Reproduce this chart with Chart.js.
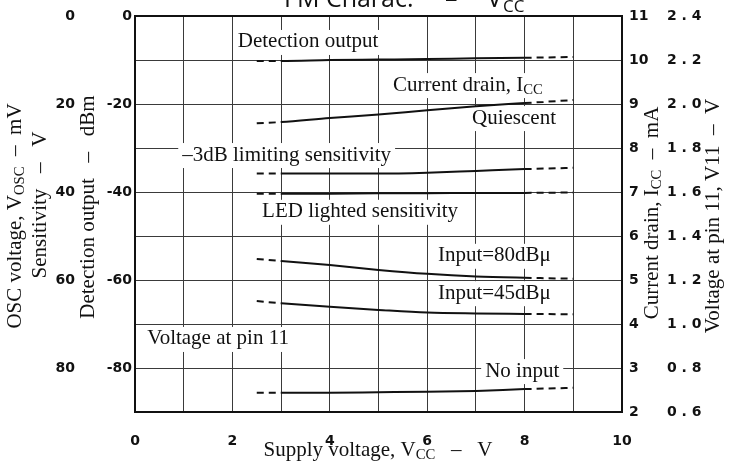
<!DOCTYPE html>
<html lang="en">
<head>
  <meta charset="UTF-8">
  <title>FM Charac. – VCC</title>
  <script src="https://cdn.jsdelivr.net/npm/chart.js"></script>
  <style>
    body { margin: 0; background: #fff; }
  </style>
</head>
<body>

  <canvas id="fmChart" width="739" height="461"></canvas>

  <script>
    // supply voltage (V) and the curves, read in dBm on the inner left scale
    const supplyVoltage     = [2.5, 3, 4, 5, 6, 7, 8, 9];
    const detectionOutput   = [-10.2, -10.2, -10.0, -9.9, -9.8, -9.6, -9.5, -9.3];
    const currentQuiescent  = [-24.4, -24.1, -23.2, -22.4, -21.4, -20.5, -19.8, -19.1];
    const limitingSens3dB   = [-35.8, -35.8, -35.8, -35.8, -35.6, -35.2, -34.8, -34.5];
    const ledSensitivity    = [-40.4, -40.4, -40.4, -40.3, -40.3, -40.2, -40.2, -40.1];
    const pin11Input80      = [-55.2, -55.7, -56.6, -57.7, -58.6, -59.2, -59.5, -59.7];
    const pin11Input45      = [-64.8, -65.3, -66.1, -66.8, -67.4, -67.6, -67.7, -67.8];
    const pin11NoInput      = [-85.6, -85.6, -85.6, -85.5, -85.4, -85.2, -84.8, -84.5];

    // solid between these supply voltages, dashed outside
    const solidFrom = 3, solidTo = 8;

    const serif = '"Liberation Serif", "Times New Roman", serif';
    const tickFont = { family: 'DejaVu Sans', size: 14, weight: 'bold' };
    const labelSize = 21;

    // curve labels, placed in chart units (V, dBm)
    const notes = [
      { parts: [['Detection output']], x: 2.11, y: -5.9 },
      { parts: [['Current drain, I'], ['CC', true]], x: 5.30, y: -15.7 },
      { parts: [['Quiescent']], x: 6.92, y: -23.2 },
      { parts: [['\u20133dB limiting sensitivity']], x: 0.97, y: -31.6 },
      { parts: [['LED lighted sensitivity']], x: 2.61, y: -44.5 },
      { parts: [['Input=80dB\u03bc']], x: 6.22, y: -54.5 },
      { parts: [['Input=45dB\u03bc']], x: 6.22, y: -63.0 },
      { parts: [['Voltage at pin 11']], x: 0.25, y: -73.4 },
      { parts: [['No input']], x: 7.19, y: -80.7 }
    ];

    function richWidth(ctx, parts, size, family) {
      let w = 0;
      parts.forEach(([t, sub]) => {
        ctx.font = (sub ? size * 0.7 : size) + 'px ' + family;
        w += ctx.measureText(t).width;
      });
      return w;
    }

    // left aligned, vertically centred on y
    function drawRich(ctx, parts, x, y, size, family) {
      ctx.textAlign = 'left';
      ctx.textBaseline = 'middle';
      let cx = x;
      parts.forEach(([t, sub]) => {
        ctx.font = (sub ? size * 0.7 : size) + 'px ' + family;
        ctx.fillText(t, cx, sub ? y + size * 0.24 : y);
        cx += ctx.measureText(t).width;
      });
    }

    function drawRotated(ctx, parts, cx, cy, size) {
      ctx.save();
      ctx.translate(cx, cy);
      ctx.rotate(-Math.PI / 2);
      const w = richWidth(ctx, parts, size, serif);
      drawRich(ctx, parts, -w / 2, 0, size, serif);
      ctx.restore();
    }

    const textPlugin = {
      id: 'textPlugin',
      beforeDatasetsDraw(chart) {
        const ctx = chart.ctx, sx = chart.scales.x, sy = chart.scales.y;
        ctx.save();
        notes.forEach(n => {
          const px = sx.getPixelForValue(n.x), py = sy.getPixelForValue(n.y);
          const w = richWidth(ctx, n.parts, labelSize, serif);
          ctx.fillStyle = '#fff';
          ctx.fillRect(px - 4, py - 12, w + 8, 25);
          ctx.fillStyle = '#111';
          drawRich(ctx, n.parts, px, py, labelSize, serif);
        });
        ctx.restore();
      },
      afterDraw(chart) {
        const ctx = chart.ctx, a = chart.chartArea;
        const midY = (a.top + a.bottom) / 2;
        ctx.save();
        ctx.fillStyle = '#111';

        // title, cut by the top edge as in the scan
        ctx.textAlign = 'left';
        ctx.textBaseline = 'alphabetic';
        ctx.font = '25px "Open Sans"';
        ctx.fillText('FM Charac.', 284, 7);
        ctx.fillText('\u2013', 445, 7);
        ctx.fillText('V', 487, 7);
        ctx.font = '17px "Open Sans"';
        ctx.fillText('CC', 503, 12);

        drawRotated(ctx, [['OSC voltage, V'], ['OSC', true], ['  \u2013  mV']], 15, midY + 2, 21);
        drawRotated(ctx, [['Sensitivity   \u2013   V']], 40, midY - 9, 21);
        drawRotated(ctx, [['Detection output   \u2013   dBm']], 88, midY - 7, 21);
        drawRotated(ctx, [['Current drain, I'], ['CC', true], ['  \u2013  mA']], 652, midY - 1, 21);
        drawRotated(ctx, [['Voltage at pin 11, V11  \u2013  V']], 713, midY + 2, 21);

        const xt = [['Supply voltage, V'], ['CC', true], ['   \u2013   V']];
        const xw = richWidth(ctx, xt, 21, serif);
        drawRich(ctx, xt, 378 - xw / 2, 450, 21, serif);
        ctx.restore();
      }
    };

    function curve(values) {
      return {
        data: supplyVoltage.map((v, i) => ({ x: v, y: values[i] })),
        borderColor: '#111',
        borderWidth: 2,
        pointRadius: 0,
        cubicInterpolationMode: 'monotone',
        segment: {
          borderDash: c => (c.p0.parsed.x < solidFrom || c.p0.parsed.x >= solidTo) ? [7, 5] : undefined
        }
      };
    }

    const ctx = document.getElementById('fmChart').getContext('2d');
    new Chart(ctx, {
      type: 'line',
      data: {
        datasets: [
          curve(detectionOutput),
          curve(currentQuiescent),
          curve(limitingSens3dB),
          curve(ledSensitivity),
          curve(pin11Input80),
          curve(pin11Input45),
          curve(pin11NoInput)
        ]
      },
      options: {
        responsive: false,
        animation: false,
        layout: { padding: { top: 16 } },
        plugins: { legend: { display: false }, tooltip: { enabled: false } },
        scales: {
          x: {
            type: 'linear', min: 0, max: 10,
            ticks: { stepSize: 1, padding: 21, color: '#111', font: tickFont,
                     callback: v => v % 2 === 0 ? v : '' },
            grid: { color: '#3a3a3a', lineWidth: 1, drawTicks: false },
            border: { color: '#111', width: 2 },
            afterFit: s => { s.height = 49; }
          },
          y: {
            position: 'left', weight: 0, min: -90, max: 0,
            ticks: { stepSize: 10, padding: 3, color: '#111', font: tickFont,
                     callback: v => v % 20 === 0 && v > -90 ? v : '' },
            grid: { color: c => c.tick && c.tick.value === 0 ? '#111' : '#3a3a3a',
                    lineWidth: c => c.tick && c.tick.value === 0 ? 2 : 1, drawTicks: false },
            border: { color: '#111', width: 2 },
            afterFit: s => { s.width = 55; }
          },
          yOsc: {
            position: 'left', weight: 1, reverse: true, min: 0, max: 90,
            ticks: { stepSize: 20, padding: 5, color: '#111', font: tickFont,
                     callback: v => v < 90 ? v : '' },
            grid: { display: false, drawTicks: false },
            border: { display: false },
            afterFit: s => { s.width = 80; }
          },
          yIcc: {
            position: 'right', weight: 0, min: 2, max: 11,
            ticks: { stepSize: 1, padding: 7, color: '#111', font: tickFont },
            grid: { display: false, drawTicks: false },
            border: { color: '#111', width: 2 },
            afterFit: s => { s.width = 42; }
          },
          yV11: {
            position: 'right', weight: 1, min: 0.6, max: 2.4,
            ticks: { stepSize: 0.2, padding: 3, color: '#111', font: tickFont,
                     callback: v => v.toFixed(1).replace('.', ' . ') },
            grid: { display: false, drawTicks: false },
            border: { display: false },
            afterFit: s => { s.width = 75; }
          }
        }
      },
      plugins: [textPlugin]
    });
  </script>
</body>
</html>
